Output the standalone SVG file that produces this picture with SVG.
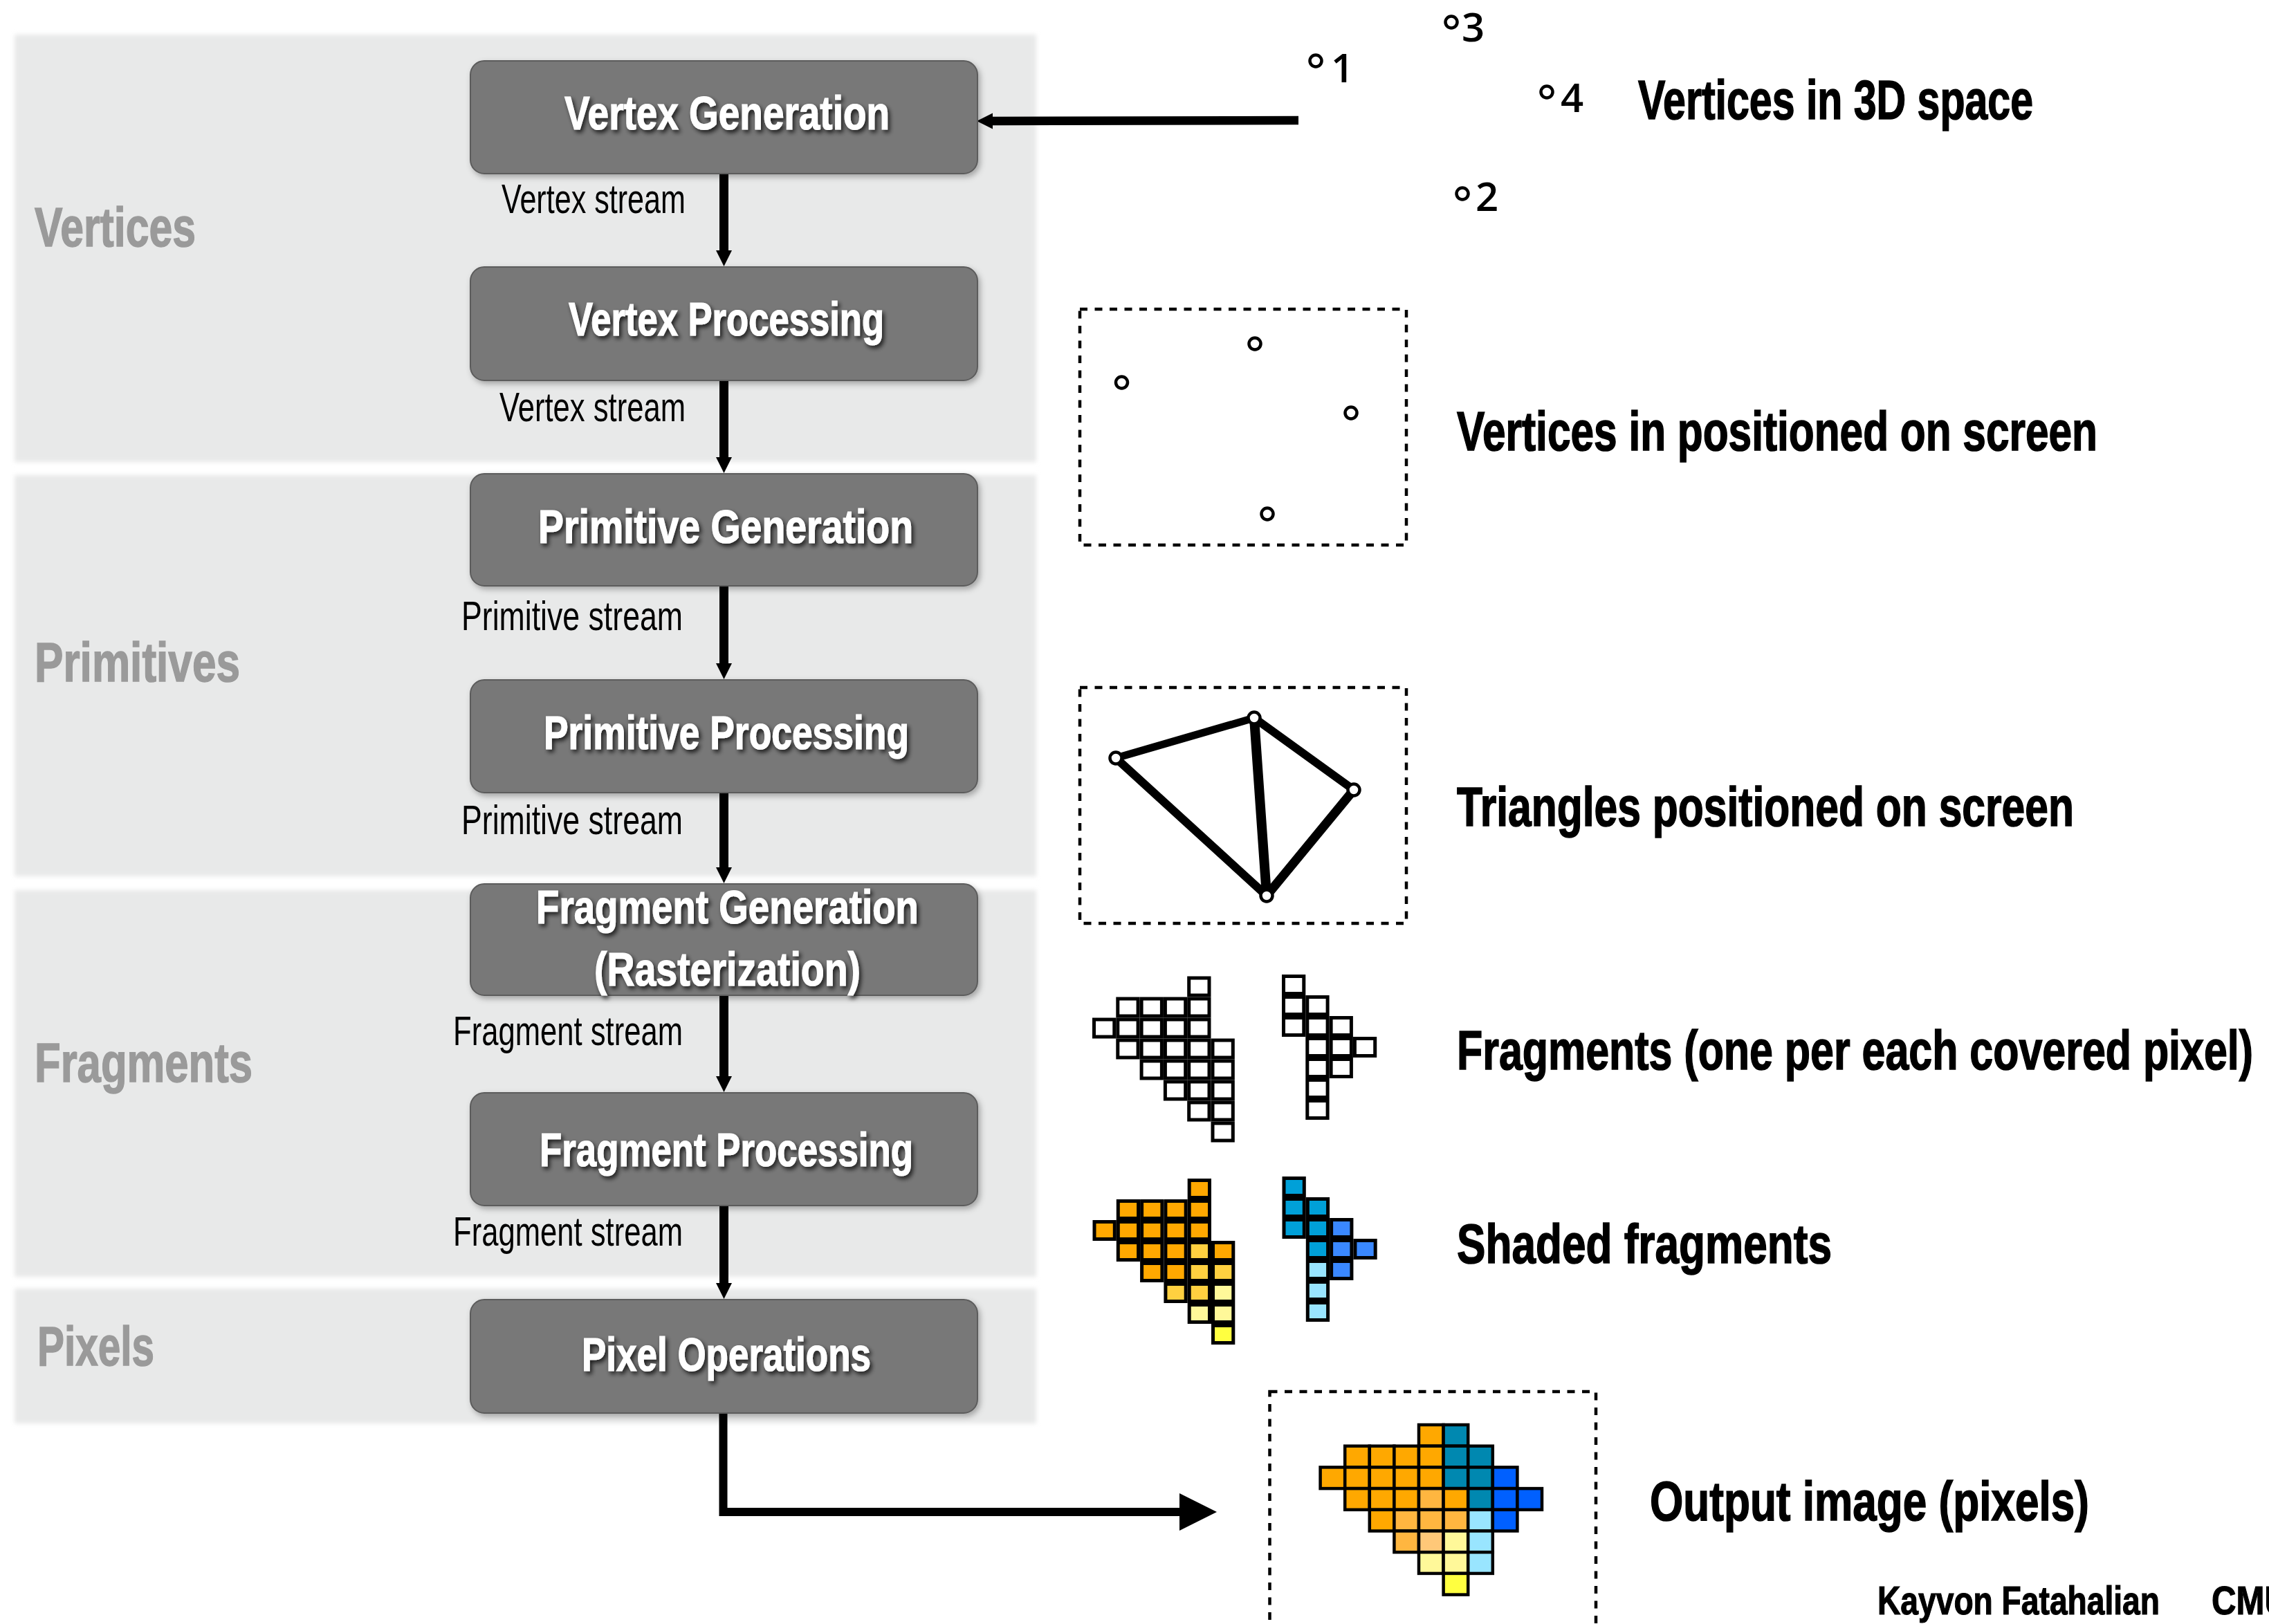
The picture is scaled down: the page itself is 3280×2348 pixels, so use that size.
<svg xmlns="http://www.w3.org/2000/svg" width="3280" height="2348" viewBox="0 0 3280 2348">
<style>
.band{fill:#e8e9e9}
.box{fill:#787878;stroke:#5c5c5c;stroke-width:2}
.f{font-family:"Liberation Sans Narrow","Liberation Sans",Arial,sans-serif}
.nt{font-weight:bold;fill:#fff;stroke:#fff;stroke-width:1.2;font-size:68px}
.st{fill:#000;font-size:60px}
.sec{font-weight:bold;fill:#9a9a9a;stroke:#9a9a9a;stroke-width:1.5;font-size:80px}
.lbl{font-weight:bold;fill:#000;stroke:#000;stroke-width:1.6;font-size:80px}
.dig{font-family:"Open Sans","Noto Sans",sans-serif;font-size:58px;font-weight:600;fill:#000}
.conn{stroke:#000;fill:none}
.dash{fill:none;stroke:#000;stroke-width:4.5;stroke-dasharray:11 10.5}
.pt{fill:#fff;stroke:#000;stroke-width:4.5}
.edge{stroke:#000;stroke-linecap:round}
.c{stroke:#000;stroke-width:5;fill:#fff}
.oc{stroke:#000;stroke-width:4.5}
.O{fill:#ffa800}.LO{fill:#ffd040}.PY{fill:#fff899}.Y{fill:#ffff40}
.CB{fill:#00a0d8}.B{fill:#3a88ff}.LC{fill:#99e5ff}
.OB{fill:#ffb640}.PO{fill:#ffc878}.T{fill:#0088b0}.DB{fill:#0060ff}
</style>
<defs>
<filter id="soft" x="-2%" y="-2%" width="104%" height="104%"><feGaussianBlur stdDeviation="3"/></filter>
<filter id="bs" x="-5%" y="-10%" width="115%" height="130%"><feDropShadow dx="3" dy="4" stdDeviation="4" flood-color="#000" flood-opacity="0.3"/></filter>
<filter id="ts" x="-5%" y="-20%" width="115%" height="150%"><feDropShadow dx="3" dy="4" stdDeviation="3" flood-color="#000" flood-opacity="0.75"/></filter>
<marker id="ah" markerUnits="userSpaceOnUse" markerWidth="24" markerHeight="24" viewBox="0 -12 24 24" refX="1" refY="0" orient="auto" overflow="visible"><path d="M0,-11.5 L23,0 L0,11.5z" fill="#000"/></marker>
<marker id="ahb" markerUnits="userSpaceOnUse" markerWidth="56" markerHeight="56" viewBox="0 -28 56 56" refX="1" refY="0" orient="auto" overflow="visible"><path d="M0,-27 L54,0 L0,27z" fill="#000"/></marker>
</defs>
<rect width="3280" height="2348" fill="#fff"/>

<g id="bands" filter="url(#soft)">
<rect class="band" x="21" y="50" width="1477" height="618"/>
<rect class="band" x="21" y="687" width="1477" height="580"/>
<rect class="band" x="21" y="1287" width="1477" height="559"/>
<rect class="band" x="21" y="1863" width="1477" height="195"/>
</g>

<g id="section-labels" class="f">
<text class="sec" x="50" y="356" textLength="233" lengthAdjust="spacingAndGlyphs">Vertices</text>
<text class="sec" x="50" y="985" textLength="297" lengthAdjust="spacingAndGlyphs">Primitives</text>
<text class="sec" x="50" y="1564" textLength="315" lengthAdjust="spacingAndGlyphs">Fragments</text>
<text class="sec" x="54" y="1974" textLength="169" lengthAdjust="spacingAndGlyphs">Pixels</text>
</g>

<g id="connectors">
<path class="conn" stroke-width="13" d="M1046.5,251 V363" marker-end="url(#ah)"/>
<path class="conn" stroke-width="13" d="M1046.5,550 V662" marker-end="url(#ah)"/>
<path class="conn" stroke-width="13" d="M1046.5,847 V960" marker-end="url(#ah)"/>
<path class="conn" stroke-width="13" d="M1046.5,1146 V1255" marker-end="url(#ah)"/>
<path class="conn" stroke-width="13" d="M1046.5,1439 V1557" marker-end="url(#ah)"/>
<path class="conn" stroke-width="13" d="M1046.5,1743 V1856" marker-end="url(#ah)"/>
<path class="conn" stroke-width="12.5" d="M1877,174 L1434,175" marker-end="url(#ah)"/>
<path class="conn" stroke-width="12" d="M1045.5,2043 V2186 H1706" marker-end="url(#ahb)"/>
</g>

<g id="stream-labels" class="f">
<text class="st" x="725" y="308" textLength="266" lengthAdjust="spacingAndGlyphs">Vertex stream</text>
<text class="st" x="722" y="609" textLength="269" lengthAdjust="spacingAndGlyphs">Vertex stream</text>
<text class="st" x="667" y="911" textLength="320" lengthAdjust="spacingAndGlyphs">Primitive stream</text>
<text class="st" x="667" y="1206" textLength="320" lengthAdjust="spacingAndGlyphs">Primitive stream</text>
<text class="st" x="655" y="1511" textLength="332" lengthAdjust="spacingAndGlyphs">Fragment stream</text>
<text class="st" x="655" y="1801" textLength="332" lengthAdjust="spacingAndGlyphs">Fragment stream</text>
</g>

<g id="n-vertex-generation">
<rect class="box" filter="url(#bs)" x="680" y="88" width="733" height="163" rx="20"/>
<text class="f nt" filter="url(#ts)" x="816" y="187" textLength="470" lengthAdjust="spacingAndGlyphs">Vertex Generation</text>
</g>
<g id="n-vertex-processing">
<rect class="box" filter="url(#bs)" x="680" y="386" width="733" height="164" rx="20"/>
<text class="f nt" filter="url(#ts)" x="822" y="485" textLength="456" lengthAdjust="spacingAndGlyphs">Vertex Processing</text>
</g>
<g id="n-primitive-generation">
<rect class="box" filter="url(#bs)" x="680" y="685" width="733" height="162" rx="20"/>
<text class="f nt" filter="url(#ts)" x="778" y="785" textLength="542" lengthAdjust="spacingAndGlyphs">Primitive Generation</text>
</g>
<g id="n-primitive-processing">
<rect class="box" filter="url(#bs)" x="680" y="983" width="733" height="163" rx="20"/>
<text class="f nt" filter="url(#ts)" x="786" y="1083" textLength="528" lengthAdjust="spacingAndGlyphs">Primitive Processing</text>
</g>
<g id="n-fragment-generation">
<rect class="box" filter="url(#bs)" x="680" y="1278" width="733" height="161" rx="20"/>
<text class="f nt" filter="url(#ts)" x="775" y="1335" textLength="553" lengthAdjust="spacingAndGlyphs">Fragment Generation</text>
<text class="f nt" filter="url(#ts)" x="859" y="1425" textLength="385" lengthAdjust="spacingAndGlyphs">(Rasterization)</text>
</g>
<g id="n-fragment-processing">
<rect class="box" filter="url(#bs)" x="680" y="1580" width="733" height="163" rx="20"/>
<text class="f nt" filter="url(#ts)" x="780" y="1686" textLength="540" lengthAdjust="spacingAndGlyphs">Fragment Processing</text>
</g>
<g id="n-pixel-operations">
<rect class="box" filter="url(#bs)" x="680" y="1879" width="733" height="164" rx="20"/>
<text class="f nt" filter="url(#ts)" x="841" y="1982" textLength="418" lengthAdjust="spacingAndGlyphs">Pixel Operations</text>
</g>

<g id="ill-3d">
<circle class="pt" cx="1902" cy="88" r="8.5"/>
<circle class="pt" cx="2098" cy="32" r="8.5"/>
<circle class="pt" cx="2236" cy="133" r="8.5"/>
<circle class="pt" cx="2114" cy="280" r="8.5"/>
<text class="dig" x="1924" y="119" font-weight="400">1</text>
<text class="dig" x="2113" y="60">3</text>
<text class="dig" x="2256" y="162">4</text>
<text class="dig" x="2133" y="305">2</text>
<text class="f lbl" x="2368" y="172" textLength="571" lengthAdjust="spacingAndGlyphs">Vertices in 3D space</text>
</g>

<g id="ill-screen">
<rect class="dash" x="1561" y="447" width="472" height="341"/>
<circle class="pt" cx="1621.5" cy="553" r="8.5"/>
<circle class="pt" cx="1814" cy="497" r="8.5"/>
<circle class="pt" cx="1953" cy="597" r="8.5"/>
<circle class="pt" cx="1832" cy="743" r="8.5"/>
<text class="f lbl" x="2106" y="651" textLength="926" lengthAdjust="spacingAndGlyphs">Vertices in positioned on screen</text>
</g>

<g id="ill-triangles">
<rect class="dash" x="1561" y="994" width="472" height="341"/>
<line class="edge" x1="1613" y1="1096" x2="1813" y2="1038" stroke-width="11"/>
<line class="edge" x1="1613" y1="1096" x2="1831" y2="1295" stroke-width="12"/>
<line class="edge" x1="1813" y1="1038" x2="1831" y2="1295" stroke-width="14"/>
<line class="edge" x1="1813" y1="1038" x2="1957" y2="1142" stroke-width="12"/>
<line class="edge" x1="1957" y1="1142" x2="1831" y2="1295" stroke-width="13"/>
<circle class="pt" cx="1613" cy="1096" r="8.5" stroke-width="3.5"/>
<circle class="pt" cx="1813" cy="1038" r="8.5" stroke-width="3.5"/>
<circle class="pt" cx="1957" cy="1142" r="8.5" stroke-width="3.5"/>
<circle class="pt" cx="1831" cy="1295" r="8.5" stroke-width="3.5"/>
<text class="f lbl" x="2106" y="1194" textLength="892" lengthAdjust="spacingAndGlyphs">Triangles positioned on screen</text>
</g>

<g id="ill-fragments">
<g transform="translate(1579,1411.5)">
<rect class="c" x="139.7" y="2.5" width="29.3" height="25"/>
<rect class="c" x="36.8" y="32.5" width="29.3" height="25"/><rect class="c" x="71.1" y="32.5" width="29.3" height="25"/><rect class="c" x="105.4" y="32.5" width="29.3" height="25"/><rect class="c" x="139.7" y="32.5" width="29.3" height="25"/>
<rect class="c" x="2.5" y="62.5" width="29.3" height="25"/><rect class="c" x="36.8" y="62.5" width="29.3" height="25"/><rect class="c" x="71.1" y="62.5" width="29.3" height="25"/><rect class="c" x="105.4" y="62.5" width="29.3" height="25"/><rect class="c" x="139.7" y="62.5" width="29.3" height="25"/>
<rect class="c" x="36.8" y="92.5" width="29.3" height="25"/><rect class="c" x="71.1" y="92.5" width="29.3" height="25"/><rect class="c" x="105.4" y="92.5" width="29.3" height="25"/><rect class="c" x="139.7" y="92.5" width="29.3" height="25"/><rect class="c" x="174" y="92.5" width="29.3" height="25"/>
<rect class="c" x="71.1" y="122.5" width="29.3" height="25"/><rect class="c" x="105.4" y="122.5" width="29.3" height="25"/><rect class="c" x="139.7" y="122.5" width="29.3" height="25"/><rect class="c" x="174" y="122.5" width="29.3" height="25"/>
<rect class="c" x="105.4" y="152.5" width="29.3" height="25"/><rect class="c" x="139.7" y="152.5" width="29.3" height="25"/><rect class="c" x="174" y="152.5" width="29.3" height="25"/>
<rect class="c" x="139.7" y="182.5" width="29.3" height="25"/><rect class="c" x="174" y="182.5" width="29.3" height="25"/>
<rect class="c" x="174" y="212.5" width="29.3" height="25"/>
</g>
<g transform="translate(1853,1409)">
<rect class="c" x="2.5" y="2.5" width="29.3" height="25"/>
<rect class="c" x="2.5" y="32.5" width="29.3" height="25"/><rect class="c" x="36.8" y="32.5" width="29.3" height="25"/>
<rect class="c" x="2.5" y="62.5" width="29.3" height="25"/><rect class="c" x="36.8" y="62.5" width="29.3" height="25"/><rect class="c" x="71.1" y="62.5" width="29.3" height="25"/>
<rect class="c" x="36.8" y="92.5" width="29.3" height="25"/><rect class="c" x="71.1" y="92.5" width="29.3" height="25"/><rect class="c" x="105.4" y="92.5" width="29.3" height="25"/>
<rect class="c" x="36.8" y="122.5" width="29.3" height="25"/><rect class="c" x="71.1" y="122.5" width="29.3" height="25"/>
<rect class="c" x="36.8" y="152.5" width="29.3" height="25"/>
<rect class="c" x="36.8" y="182.5" width="29.3" height="25"/>
</g>
<text class="f lbl" x="2106" y="1546" textLength="1151" lengthAdjust="spacingAndGlyphs">Fragments (one per each covered pixel)</text>
</g>

<g id="ill-shaded">
<g transform="translate(1579.5,1704)">
<rect class="c O" x="139.7" y="2.5" width="29.3" height="25"/>
<rect class="c O" x="36.8" y="32.5" width="29.3" height="25"/><rect class="c O" x="71.1" y="32.5" width="29.3" height="25"/><rect class="c O" x="105.4" y="32.5" width="29.3" height="25"/><rect class="c O" x="139.7" y="32.5" width="29.3" height="25"/>
<rect class="c O" x="2.5" y="62.5" width="29.3" height="25"/><rect class="c O" x="36.8" y="62.5" width="29.3" height="25"/><rect class="c O" x="71.1" y="62.5" width="29.3" height="25"/><rect class="c O" x="105.4" y="62.5" width="29.3" height="25"/><rect class="c O" x="139.7" y="62.5" width="29.3" height="25"/>
<rect class="c O" x="36.8" y="92.5" width="29.3" height="25"/><rect class="c O" x="71.1" y="92.5" width="29.3" height="25"/><rect class="c O" x="105.4" y="92.5" width="29.3" height="25"/><rect class="c LO" x="139.7" y="92.5" width="29.3" height="25"/><rect class="c O" x="174" y="92.5" width="29.3" height="25"/>
<rect class="c O" x="71.1" y="122.5" width="29.3" height="25"/><rect class="c O" x="105.4" y="122.5" width="29.3" height="25"/><rect class="c LO" x="139.7" y="122.5" width="29.3" height="25"/><rect class="c LO" x="174" y="122.5" width="29.3" height="25"/>
<rect class="c LO" x="105.4" y="152.5" width="29.3" height="25"/><rect class="c LO" x="139.7" y="152.5" width="29.3" height="25"/><rect class="c PY" x="174" y="152.5" width="29.3" height="25"/>
<rect class="c PY" x="139.7" y="182.5" width="29.3" height="25"/><rect class="c PY" x="174" y="182.5" width="29.3" height="25"/>
<rect class="c Y" x="174" y="212.5" width="29.3" height="25"/>
</g>
<g transform="translate(1853.5,1701)">
<rect class="c CB" x="2.5" y="2.5" width="29.3" height="25"/>
<rect class="c CB" x="2.5" y="32.5" width="29.3" height="25"/><rect class="c CB" x="36.8" y="32.5" width="29.3" height="25"/>
<rect class="c CB" x="2.5" y="62.5" width="29.3" height="25"/><rect class="c CB" x="36.8" y="62.5" width="29.3" height="25"/><rect class="c B" x="71.1" y="62.5" width="29.3" height="25"/>
<rect class="c CB" x="36.8" y="92.5" width="29.3" height="25"/><rect class="c B" x="71.1" y="92.5" width="29.3" height="25"/><rect class="c B" x="105.4" y="92.5" width="29.3" height="25"/>
<rect class="c LC" x="36.8" y="122.5" width="29.3" height="25"/><rect class="c B" x="71.1" y="122.5" width="29.3" height="25"/>
<rect class="c LC" x="36.8" y="152.5" width="29.3" height="25"/>
<rect class="c LC" x="36.8" y="182.5" width="29.3" height="25"/>
</g>
<text class="f lbl" x="2106" y="1826" textLength="542" lengthAdjust="spacingAndGlyphs">Shaded fragments</text>
</g>

<g id="ill-output">
<rect class="dash" x="1835.5" y="2012" width="471.5" height="360"/>
<g transform="translate(1908.6,2060)">
<rect class="oc O" x="142.4" y="0" width="35.6" height="30.7"/><rect class="oc T" x="178" y="0" width="35.6" height="30.7"/>
<rect class="oc O" x="35.6" y="30.7" width="35.6" height="30.7"/><rect class="oc O" x="71.2" y="30.7" width="35.6" height="30.7"/><rect class="oc O" x="106.8" y="30.7" width="35.6" height="30.7"/><rect class="oc O" x="142.4" y="30.7" width="35.6" height="30.7"/><rect class="oc T" x="178" y="30.7" width="35.6" height="30.7"/><rect class="oc T" x="213.6" y="30.7" width="35.6" height="30.7"/>
<rect class="oc O" x="0" y="61.4" width="35.6" height="30.7"/><rect class="oc O" x="35.6" y="61.4" width="35.6" height="30.7"/><rect class="oc O" x="71.2" y="61.4" width="35.6" height="30.7"/><rect class="oc O" x="106.8" y="61.4" width="35.6" height="30.7"/><rect class="oc O" x="142.4" y="61.4" width="35.6" height="30.7"/><rect class="oc T" x="178" y="61.4" width="35.6" height="30.7"/><rect class="oc T" x="213.6" y="61.4" width="35.6" height="30.7"/><rect class="oc DB" x="249.2" y="61.4" width="35.6" height="30.7"/>
<rect class="oc O" x="35.6" y="92.1" width="35.6" height="30.7"/><rect class="oc O" x="71.2" y="92.1" width="35.6" height="30.7"/><rect class="oc O" x="106.8" y="92.1" width="35.6" height="30.7"/><rect class="oc OB" x="142.4" y="92.1" width="35.6" height="30.7"/><rect class="oc O" x="178" y="92.1" width="35.6" height="30.7"/><rect class="oc T" x="213.6" y="92.1" width="35.6" height="30.7"/><rect class="oc DB" x="249.2" y="92.1" width="35.6" height="30.7"/><rect class="oc DB" x="284.8" y="92.1" width="35.6" height="30.7"/>
<rect class="oc O" x="71.2" y="122.8" width="35.6" height="30.7"/><rect class="oc OB" x="106.8" y="122.8" width="35.6" height="30.7"/><rect class="oc OB" x="142.4" y="122.8" width="35.6" height="30.7"/><rect class="oc OB" x="178" y="122.8" width="35.6" height="30.7"/><rect class="oc LC" x="213.6" y="122.8" width="35.6" height="30.7"/><rect class="oc DB" x="249.2" y="122.8" width="35.6" height="30.7"/>
<rect class="oc OB" x="106.8" y="153.5" width="35.6" height="30.7"/><rect class="oc PO" x="142.4" y="153.5" width="35.6" height="30.7"/><rect class="oc PY" x="178" y="153.5" width="35.6" height="30.7"/><rect class="oc LC" x="213.6" y="153.5" width="35.6" height="30.7"/>
<rect class="oc PY" x="142.4" y="184.2" width="35.6" height="30.7"/><rect class="oc PY" x="178" y="184.2" width="35.6" height="30.7"/><rect class="oc LC" x="213.6" y="184.2" width="35.6" height="30.7"/>
<rect class="oc Y" x="178" y="214.9" width="35.6" height="30.7"/>
</g>
<text class="f lbl" x="2385" y="2198" textLength="635" lengthAdjust="spacingAndGlyphs">Output image (pixels)</text>
</g>

<g id="footer" class="f">
<text font-weight="bold" font-size="57" fill="#000" stroke="#000" stroke-width="1.2" x="2714" y="2334" textLength="408" lengthAdjust="spacingAndGlyphs">Kayvon Fatahalian</text>
<text font-weight="bold" font-size="57" fill="#000" stroke="#000" stroke-width="1.2" x="3197" y="2334" textLength="112" lengthAdjust="spacingAndGlyphs">CMU</text>
</g>
</svg>
